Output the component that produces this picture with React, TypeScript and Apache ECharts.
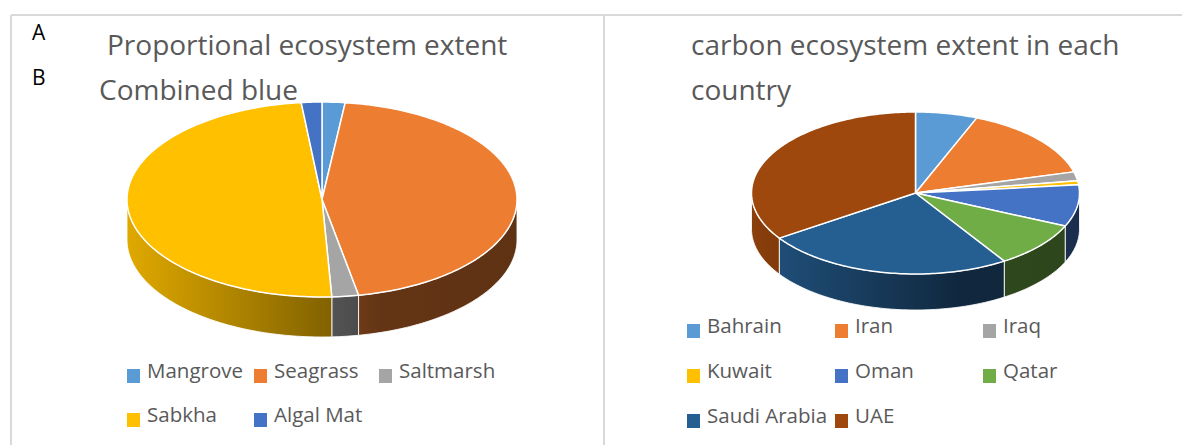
import React, { useEffect, useRef } from "react";
import * as echarts from "echarts";

// ---------- data ----------
const habitatNames = ["Mangrove", "Seagrass", "Saltmarsh", "Sabkha", "Algal Mat"];
const habitatValues = [1.9, 45.1, 2.2, 49.1, 1.7];
const habitatColors = ["#5B9BD5", "#ED7D31", "#A5A5A5", "#FFC000", "#4472C4"];

const countryNames = ["Bahrain", "Iran", "Iraq", "Kuwait", "Oman", "Qatar", "Saudi Arabia", "UAE"];
const countryValues = [6.1, 14.7, 1.8, 0.8, 8.3, 9.2, 24.7, 34.4];
const countryColors = ["#5B9BD5", "#ED7D31", "#A5A5A5", "#FFC000", "#4472C4", "#70AD47", "#255E91", "#9E480E"];

const leftTitle = ["Proportional ecosystem extent", "Combined blue"];
const rightTitle = ["carbon ecosystem extent in each", "country"];

// ---------- helpers ----------
const TEXT = "#595959";
const FONT = "'Open Sans', 'Noto Sans', sans-serif";

function shade(hex: string, f: number) {
  const n = parseInt(hex.slice(1), 16);
  const r = Math.round(((n >> 16) & 255) * f);
  const g = Math.round(((n >> 8) & 255) * f);
  const b = Math.round((n & 255) * f);
  return `rgb(${r},${g},${b})`;
}

type Geo = { cx: number; cy: number; rx: number; ry: number; depth: number };

function pieSeries(values: number[], colors: string[], geo: Geo) {
  const total = values.reduce((a, b) => a + b, 0);
  const starts: number[] = [];
  let acc = 0;
  values.forEach((v) => {
    starts.push((acc / total) * Math.PI * 2);
    acc += v;
  });
  const pt = (t: number, dy: number) => [geo.cx + geo.rx * Math.sin(t), geo.cy - geo.ry * Math.cos(t) + dy];
  const arc = (a: number, b: number, dy: number) => {
    const n = Math.max(2, Math.ceil(Math.abs(b - a) / (Math.PI / 180)));
    const pts: number[][] = [];
    for (let k = 0; k <= n; k++) pts.push(pt(a + ((b - a) * k) / n, dy));
    return pts;
  };
  const side = {
    type: "custom",
    coordinateSystem: "none",
    silent: true,
    z: 1,
    data: values,
    renderItem: (params: any, api: any) => {
      const i = params.dataIndex;
      const a = starts[i];
      const b = a + (api.value(0) / total) * Math.PI * 2;
      const s = Math.max(a, Math.PI / 2);
      const e = Math.min(b, (Math.PI * 3) / 2);
      if (s >= e) return { type: "group", children: [] };
      const pts = arc(s, e, 0).concat(arc(e, s, geo.depth));
      const c = colors[i];
      return {
        type: "polygon",
        shape: { points: pts },
        style: {
          fill: new echarts.graphic.LinearGradient(
            geo.cx - geo.rx, 0, geo.cx + geo.rx, 0,
            [
              { offset: 0, color: shade(c, 0.88) },
              { offset: 0.65, color: shade(c, 0.42) },
              { offset: 1, color: shade(c, 0.4) },
            ],
            true
          ),
          stroke: "rgba(255,255,255,0.85)",
          lineWidth: 1,
        },
      };
    },
  };
  const top = {
    type: "custom",
    coordinateSystem: "none",
    silent: true,
    z: 2,
    data: values,
    renderItem: (params: any, api: any) => {
      const i = params.dataIndex;
      const a = starts[i];
      const b = a + (api.value(0) / total) * Math.PI * 2;
      return {
        type: "polygon",
        shape: { points: [[geo.cx, geo.cy]].concat(arc(a, b, 0)) },
        style: { fill: colors[i], stroke: "#ffffff", lineWidth: 1.5, lineJoin: "round" },
      };
    },
  };
  return [side, top];
}

function legend(names: string[], colors: string[], cols: number[], rows: number[], perRow: number) {
  const out: any[] = [];
  names.forEach((n, i) => {
    const x = cols[i % perRow];
    const y = rows[Math.floor(i / perRow)];
    out.push({ type: "rect", silent: true, shape: { x, y: y - 1, width: 13, height: 14 }, style: { fill: colors[i] } });
    out.push({
      type: "text",
      silent: true,
      x: x + 20,
      y: y,
      style: { text: n, font: `20.5px ${FONT}`, fill: TEXT, textAlign: "left", textVerticalAlign: "middle" },
    });
  });
  return out;
}

function txt(text: string, x: number, y: number, size: number, color: string) {
  return {
    type: "text",
    silent: true,
    x,
    y,
    style: { text, font: `${size}px ${FONT}`, fill: color, textAlign: "left", textVerticalAlign: "middle" },
  };
}

export default function App() {
  const ref = useRef<HTMLDivElement>(null);
  useEffect(() => {
    if (!ref.current) return;
    const chart = echarts.init(ref.current, undefined, { renderer: "svg" });
    const border = { stroke: "#D9D9D9", lineWidth: 2 };
    chart.setOption({
      animation: false,
      backgroundColor: "#ffffff",
      series: [
        ...pieSeries(habitatValues, habitatColors, { cx: 322, cy: 199.5, rx: 195, ry: 97.5, depth: 40 }),
        ...pieSeries(countryValues, countryColors, { cx: 915.5, cy: 193, rx: 164, ry: 81, depth: 36 }),
      ],
      graphic: [
        { type: "line", silent: true, shape: { x1: 11, y1: 15, x2: 1182, y2: 15 }, style: border },
        { type: "line", silent: true, shape: { x1: 11, y1: 15, x2: 11, y2: 445 }, style: border },
        { type: "line", silent: true, shape: { x1: 604, y1: 15, x2: 604, y2: 445 }, style: border },
        txt("A", 32, 32, 21, "#000000"),
        txt("B", 32, 77, 21, "#000000"),
        txt(leftTitle[0], 107, 44, 28, TEXT),
        txt(leftTitle[1], 99, 89, 28, TEXT),
        txt(rightTitle[0], 691, 44, 28, TEXT),
        txt(rightTitle[1], 691, 89, 28, TEXT),
        ...legend(habitatNames, habitatColors, [127, 254, 379], [370, 414], 3),
        ...legend(countryNames, countryColors, [687, 835, 983], [325, 370, 415], 3),
      ],
    });
    return () => chart.dispose();
  }, []);
  return <div ref={ref} style={{ position: "absolute", left: 0, top: 0, width: 1182, height: 445 }} />;
}
